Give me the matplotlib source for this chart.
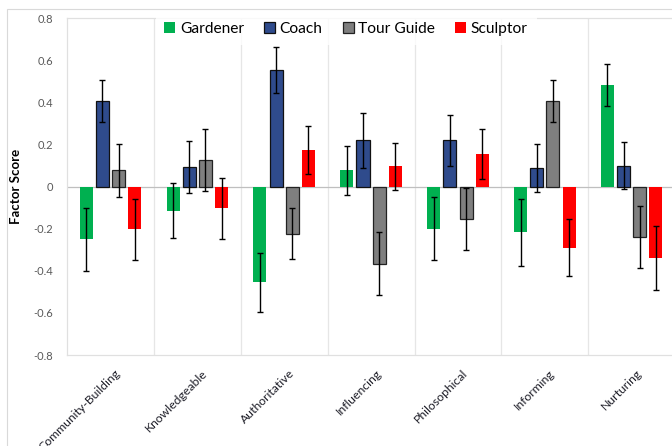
import matplotlib.pyplot as plt
import numpy as np
from matplotlib.patches import Rectangle

categories = ['Community-Building', 'Knowledgeable', 'Authoritative', 'Influencing',
              'Philosophical', 'Informing', 'Nurturing']
roles = ['Gardener', 'Coach', 'Tour Guide', 'Sculptor']

gardener = [-0.25, -0.115, -0.455, 0.078, -0.20, -0.217, 0.485]
coach = [0.407, 0.094, 0.553, 0.22, 0.22, 0.09, 0.10]
tour_guide = [0.078, 0.128, -0.223, -0.366, -0.155, 0.407, -0.24]
sculptor = [-0.203, -0.103, 0.173, 0.097, 0.155, -0.29, -0.337]

gardener_err = [0.15, 0.13, 0.14, 0.117, 0.15, 0.158, 0.10]
coach_err = [0.10, 0.125, 0.11, 0.13, 0.12, 0.115, 0.11]
tour_guide_err = [0.125, 0.148, 0.123, 0.15, 0.147, 0.10, 0.147]
sculptor_err = [0.145, 0.145, 0.115, 0.112, 0.12, 0.136, 0.152]

values = [gardener, coach, tour_guide, sculptor]
errors = [gardener_err, coach_err, tour_guide_err, sculptor_err]
colors = ['#00B050', '#2F4B8C', '#7F7F7F', '#FF0000']
edges = ['none', '#111111', '#222222', 'none']

plt.rcParams['font.family'] = ['Lato', 'DejaVu Sans']

fig = plt.figure(figsize=(6.72, 4.46), dpi=100)
ax = fig.add_axes([0.0997, 0.204, 0.905, 0.755])

# outer chart border
fig.patches.append(Rectangle((7 / 672, -0.1), 1.2, 1 - 9 / 446 + 0.1, transform=fig.transFigure,
                             fill=False, edgecolor='#D9D9D9', linewidth=0.8, zorder=0))

x = np.arange(len(categories))
width = 0.15
pitch = 0.186
offsets = (np.arange(4) - 1.5) * pitch
for i in range(4):
    ax.bar(x + offsets[i], values[i], width, color=colors[i], edgecolor=edges[i],
           linewidth=0.9, label=roles[i], zorder=3)
    ax.errorbar(x + offsets[i], values[i], yerr=errors[i], fmt='none', ecolor='black',
                elinewidth=1.0, capsize=2.5, capthick=1.0, zorder=4)

ax.set_xlim(-0.5, len(categories) - 0.5)
ax.set_ylim(-0.8, 0.8)
ax.set_yticks(np.arange(-0.8, 0.81, 0.2))
ax.set_yticklabels(['-0.8', '-0.6', '-0.4', '-0.2', '0', '0.2', '0.4', '0.6', '0.8'])
ax.tick_params(axis='y', length=0, pad=10, labelsize=8, labelcolor='#595959')

ax.set_xticks(x + 0.05)
ax.set_xticklabels(categories, rotation=45, ha='right', rotation_mode='anchor',
                   fontsize=8.8, color='#1E1E28')
ax.tick_params(axis='x', length=0, pad=9)
for xs in np.arange(0.5, len(categories) - 0.5, 1):
    ax.axvline(xs, color='#E6E6E6', linewidth=0.9, zorder=1)
ax.axhline(0, color='#BFBFBF', linewidth=0.9, zorder=2)

for s in ax.spines.values():
    s.set_color('#E0E0E0')
    s.set_linewidth(0.9)

ax.set_ylabel('Factor Score', fontsize=9.5, fontweight='bold', labelpad=8)

leg = fig.legend(loc='center', bbox_to_anchor=(0.515, 0.935), ncol=4, frameon=True,
                 fontsize=11.2, handlelength=0.7, handleheight=0.7, handletextpad=0.3,
                 columnspacing=1.3, borderpad=0.55, fancybox=False)
leg.get_frame().set_facecolor('white')
leg.get_frame().set_edgecolor('none')
leg.set_zorder(10)

fig.savefig('out.png', dpi=100)
